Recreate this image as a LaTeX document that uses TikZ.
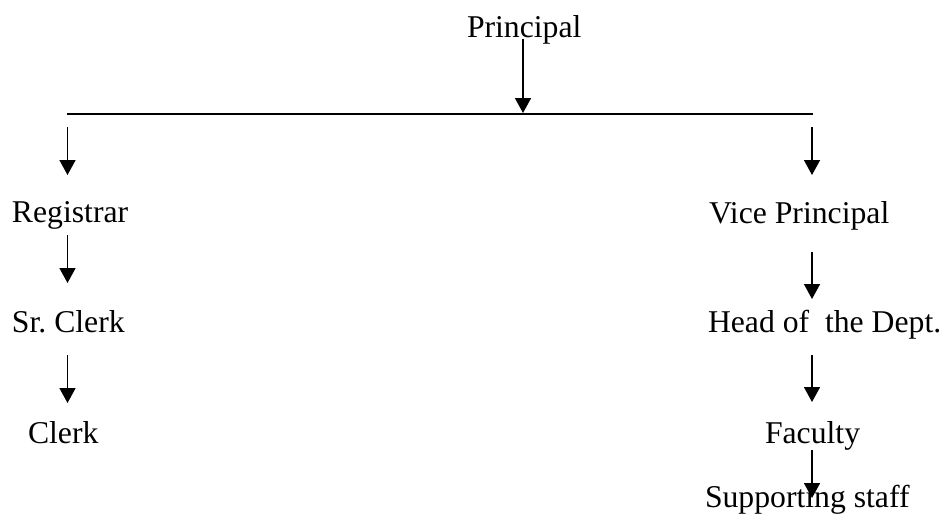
\documentclass[tikz,border=0pt]{standalone}
\usepackage{fontspec}
\setmainfont{Liberation Serif}
\usetikzlibrary{arrows.meta}
\frenchspacing
\begin{document}
\begin{tikzpicture}[x=1pt,y=-1pt,
  lbl/.style={anchor=base west,inner sep=0pt,outer sep=0pt,font=\fontsize{31.7}{38}\selectfont},
  arr/.style={line width=1.6pt,-{Triangle[length=15pt,width=16pt]}},
  bar/.style={line width=2pt}]
\useasboundingbox (0,0) rectangle (945,522);
% texts
\node[lbl] (principal) at (467,37) {Principal};
\node[lbl] (registrar) at (12,222) {Registrar};
\node[lbl] (srclerk) at (12,332) {Sr.\ Clerk};
\node[lbl] (clerk) at (28,443) {Clerk};
\node[lbl] (vice) at (709,223) {Vice Principal};
\node[lbl] (hod) at (708,332) {Head of~ the Dept.};
\node[lbl] (faculty) at (765,443) {Faculty};
\node[lbl] (support) at (705,507) {Supporting staff};
% connector points
\coordinate (barL) at (67,114);
\coordinate (barR) at (813,114);
\coordinate (pS) at (523,39);
\coordinate (pE) at (523,113);
\coordinate (l1s) at (67.5,127);
\coordinate (l1e) at (67.5,175);
\coordinate (l2s) at (67.5,235);
\coordinate (l2e) at (67.5,283);
\coordinate (l3s) at (67.5,355);
\coordinate (l3e) at (67.5,403);
\coordinate (r1s) at (812,127);
\coordinate (r1e) at (812,175);
\coordinate (r2s) at (812,252);
\coordinate (r2e) at (812,299);
\coordinate (r3s) at (812,355);
\coordinate (r3e) at (812,402);
\coordinate (r4s) at (812,450);
\coordinate (r4e) at (812,498);
% connectors
\draw[bar] (barL) -- (barR);
\draw[arr] (pS) -- (pE);
\draw[arr] (l1s) -- (l1e);
\draw[arr] (l2s) -- (l2e);
\draw[arr] (l3s) -- (l3e);
\draw[arr] (r1s) -- (r1e);
\draw[arr] (r2s) -- (r2e);
\draw[arr] (r3s) -- (r3e);
\draw[arr] (r4s) -- (r4e);
\end{tikzpicture}
\end{document}
